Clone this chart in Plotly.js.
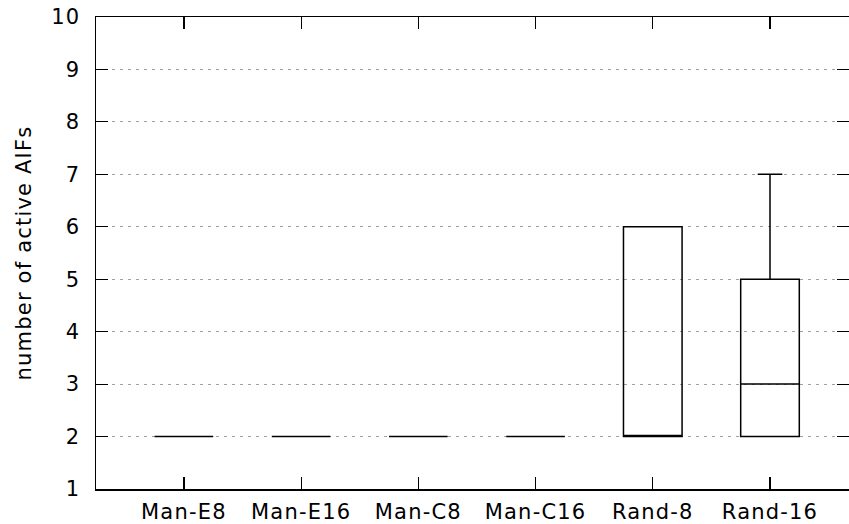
<!DOCTYPE html>
<html>
<head>
<meta charset="utf-8">
<script src="https://cdn.plot.ly/plotly-3.0.1.min.js"></script>
<style>
html,body{margin:0;padding:0;background:#fff;}
#chart{width:849px;height:524px;}
#chart svg text{letter-spacing:1.2px;}
</style>
</head>
<body>
<div id="chart"></div>
<script>
var categories = ["Man-E8", "Man-E16", "Man-C8", "Man-C16", "Rand-8", "Rand-16"];
var minValues = [2, 2, 2, 2, 2, 2];
var q1Values = [2, 2, 2, 2, 2, 2];
var medianValues = [2, 2, 2, 2, 2, 3];
var q3Values = [2, 2, 2, 2, 6, 5];
var maxValues = [2, 2, 2, 2, 6, 7];
var yTicks = [1, 2, 3, 4, 5, 6, 7, 8, 9, 10];
var yTitle = "number of active AIFs";

var font = {family: "DejaVu Sans, Verdana, sans-serif", size: 21, color: "#000"};

var trace = {
  type: "box",
  x: categories,
  q1: q1Values,
  median: medianValues,
  q3: q3Values,
  lowerfence: minValues,
  upperfence: maxValues,
  boxpoints: false,
  width: 0.5,
  whiskerwidth: 0.42,
  fillcolor: "rgba(0,0,0,0)",
  line: {color: "#000", width: 1.5},
  hoverinfo: "skip",
  showlegend: false
};

var layout = {
  width: 849,
  height: 524,
  margin: {l: 96, r: 0, t: 17, b: 35},
  paper_bgcolor: "#fff",
  plot_bgcolor: "#fff",
  font: font,
  showlegend: false,
  xaxis: {
    type: "category",
    range: [-0.75, 5.674],
    showline: true,
    linecolor: "#000",
    linewidth: 1.5,
    mirror: "ticks",
    ticks: "inside",
    ticklen: 12,
    tickwidth: 1.2,
    tickcolor: "#000",
    showgrid: false,
    zeroline: false,
    tickfont: font,
    ticklabelstandoff: 3
  },
  yaxis: {
    range: [1, 10],
    tickvals: yTicks,
    ticktext: yTicks.map(String),
    showline: true,
    linecolor: "#000",
    linewidth: 1.5,
    mirror: "ticks",
    ticks: "inside",
    ticklen: 12,
    tickwidth: 1.2,
    tickcolor: "#000",
    showgrid: true,
    gridcolor: "#a0a0a0",
    gridwidth: 1,
    griddash: "3px,5px",
    zeroline: false,
    tickfont: font,
    ticklabelstandoff: 10,
    title: {text: yTitle, font: font, standoff: 16}
  }
};

Plotly.newPlot("chart", [trace], layout, {staticPlot: true, displayModeBar: false});
</script>
</body>
</html>
